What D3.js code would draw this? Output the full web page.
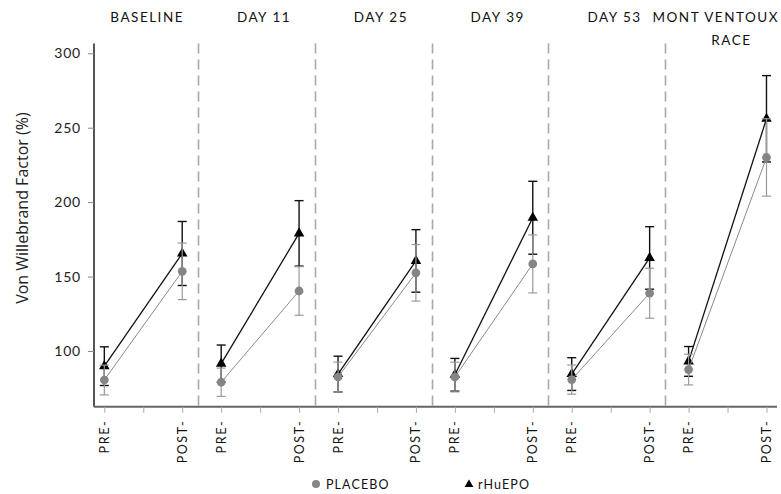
<!DOCTYPE html>
<html>
<head>
<meta charset="utf-8">
<script src="https://cdn.jsdelivr.net/npm/d3@7"></script>
<style>
  html, body { margin: 0; padding: 0; background: #fff; }
  svg { display: block; }
</style>
</head>
<body>
<svg id="chart" width="781" height="494"></svg>
<script>
// ---- data ----
const panels = [["BASELINE"], ["DAY 11"], ["DAY 25"], ["DAY 39"], ["DAY 53"], ["MONT VENTOUX", "RACE"]];
const timepoints = ["PRE-", "POST-"];
const yTicks = [100, 150, 200, 250, 300];
const seriesNames = ["PLACEBO", "rHuEPO"];

const placeboPre     = [80.5, 79.0, 82.5, 82.5, 80.8, 87.5];
const placeboPreErr  = [10.0, 9.5, 10.0, 10.0, 9.8, 10.3];
const placeboPost    = [153.5, 140.3, 152.5, 158.5, 138.8, 230.0];
const placeboPostErr = [19.0, 16.3, 19.0, 19.5, 16.8, 26.0];

const epoPre     = [89.8, 91.5, 84.5, 84.0, 84.5, 93.0];
const epoPreErr  = [13.0, 12.5, 12.0, 11.0, 11.0, 10.0];
const epoPost    = [165.5, 179.0, 160.5, 189.5, 162.5, 256.0];
const epoPostErr = [21.5, 22.0, 21.0, 24.5, 21.0, 29.0];

// ---- layout ----
const W = 781, H = 494;
const svg = d3.select("#chart");
const FONT = "Lato, 'Open Sans', sans-serif";

const x = d3.scaleLinear().domain([-0.265, 17.27]).range([94, 777]);
const y = d3.scaleLinear().domain([62.5, 306.5]).range([406.8, 43.6]);

const pos = (p, t) => p * 3 + (t === 0 ? 0 : 2);

// separators
panels.forEach((_, p) => {
  if (p === 0) return;
  const sx = Math.round(x(p * 3 - 0.6)) + 0.5;
  svg.append("line")
    .attr("x1", sx).attr("x2", sx)
    .attr("y1", y.range()[1]).attr("y2", y.range()[0])
    .attr("stroke", "#a8a8a8").attr("stroke-width", 1.6)
    .attr("stroke-dasharray", "10,6");
});

// y axis
const yAxis = d3.axisLeft(y).tickValues(yTicks).tickSize(6).tickPadding(7);
const gy = svg.append("g").attr("transform", `translate(${x.range()[0]},0)`).call(yAxis);
gy.select(".domain").attr("stroke", "#555").attr("stroke-width", 2).attr("d", `M0,${y.range()[1]}V${y.range()[0]}`);
gy.selectAll(".tick line").attr("stroke", "#888").attr("stroke-width", 1);
gy.selectAll(".tick text").attr("font-family", FONT).attr("font-size", 14).attr("fill", "#222").attr("letter-spacing", 0.8);

// x axis
const tickIdx = d3.range(0, 18);
const xAxis = d3.axisBottom(x).tickValues(tickIdx).tickSize(6).tickFormat(() => "");
const gx = svg.append("g").attr("transform", `translate(0,${y.range()[0]})`).call(xAxis);
gx.select(".domain").attr("stroke", "#666").attr("stroke-width", 2).attr("d", `M${x.range()[0]},0H${x.range()[1]}`);
gx.selectAll(".tick line").attr("stroke", "#aaa").attr("stroke-width", 1);

// x tick labels
panels.forEach((_, p) => {
  timepoints.forEach((tp, t) => {
    svg.append("text")
      .attr("transform", `translate(${x(pos(p, t))},${y.range()[0] + 13}) rotate(-90)`)
      .attr("text-anchor", "end")
      .attr("dy", "0.36em")
      .attr("font-family", FONT).attr("font-size", 12.5)
      .attr("letter-spacing", 1.6)
      .attr("fill", "#111")
      .text(tp);
  });
});

// panel titles
panels.forEach((lines, p) => {
  lines.forEach((ln, i) => {
    const t = svg.append("text")
      .attr("x", x(p * 3 + 1.1))
      .attr("y", 22 + i * 23)
      .attr("text-anchor", "middle")
      .attr("font-family", FONT).attr("font-size", 13.5)
      .attr("font-weight", 400)
      .attr("letter-spacing", 1.5)
      .attr("fill", "#111")
      .text(ln);
    const w = t.node().getComputedTextLength();
    const cx = +t.attr("x");
    if (cx + w / 2 > W - 2) t.attr("x", W - 2 - w / 2);
  });
});

// y title
svg.append("text")
  .attr("transform", `translate(28,${(y(100) + y(300)) / 2 + 6}) rotate(-90)`)
  .attr("text-anchor", "middle")
  .attr("font-family", "'Open Sans', sans-serif").attr("font-size", 16)
  .attr("fill", "#222")
  .text("Von Willebrand Factor (%)");

// ---- series ----
function drawSeries(pre, preErr, post, postErr, opts) {
  panels.forEach((_, p) => {
    const pts = [
      { x: x(pos(p, 0)), v: pre[p], e: preErr[p] },
      { x: x(pos(p, 1)), v: post[p], e: postErr[p] }
    ];
    pts.forEach(d => {
      const g = svg.append("g").attr("stroke", opts.errColor).attr("stroke-width", opts.errWidth);
      g.append("line").attr("x1", d.x).attr("x2", d.x).attr("y1", y(d.v + d.e)).attr("y2", y(d.v - d.e));
      [d.v + d.e, d.v - d.e].forEach(c => {
        g.append("line").attr("x1", d.x - 4.5).attr("x2", d.x + 4.5).attr("y1", y(c)).attr("y2", y(c));
      });
    });
    svg.append("line")
      .attr("x1", pts[0].x).attr("y1", y(pts[0].v))
      .attr("x2", pts[1].x).attr("y2", y(pts[1].v))
      .attr("stroke", opts.lineColor).attr("stroke-width", opts.lineWidth);
    pts.forEach(d => {
      svg.append("path")
        .attr("d", d3.symbol().type(opts.symbol).size(opts.symbolSize)())
        .attr("transform", `translate(${d.x},${y(d.v)})`)
        .attr("fill", opts.markerColor);
    });
  });
}

drawSeries(epoPre, epoPreErr, epoPost, epoPostErr, {
  errColor: "#111", errWidth: 1.4, lineColor: "#111", lineWidth: 1.3,
  markerColor: "#000", symbol: d3.symbolTriangle, symbolSize: 48
});
drawSeries(placeboPre, placeboPreErr, placeboPost, placeboPostErr, {
  errColor: "#9a9a9a", errWidth: 1.2, lineColor: "#8a8a8a", lineWidth: 1,
  markerColor: "#858585", symbol: d3.symbolCircle, symbolSize: 60
});

// ---- legend ----
const legendY = 484;
const lg = svg.append("g");
lg.append("circle").attr("cx", 316).attr("cy", legendY).attr("r", 4).attr("fill", "#858585");
lg.append("text").attr("x", 326).attr("y", legendY + 4.5)
  .attr("font-family", FONT).attr("font-size", 12.5).attr("letter-spacing", 1.1).attr("fill", "#111")
  .text(seriesNames[0]);
lg.append("path").attr("d", d3.symbol().type(d3.symbolTriangle).size(34)())
  .attr("transform", `translate(469,${legendY + 0.5})`).attr("fill", "#000");
lg.append("text").attr("x", 478).attr("y", legendY + 4.5)
  .attr("font-family", FONT).attr("font-size", 12.5).attr("letter-spacing", 1.1).attr("fill", "#111")
  .text(seriesNames[1]);
</script>
</body>
</html>
